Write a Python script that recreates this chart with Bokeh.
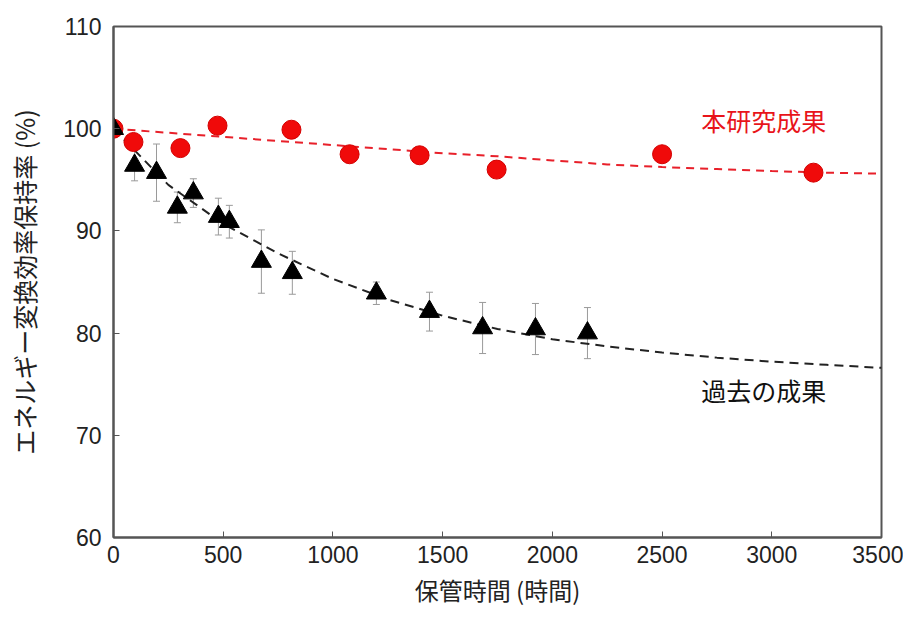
from bokeh.plotting import figure
from bokeh.models import ColumnDataSource, Whisker, TeeHead, Range1d, FixedTicker
from bokeh.core.properties import value
from bokeh.embed import file_html
from bokeh.resources import INLINE

# ---- data ----
red_x = [0, 91, 305, 474, 811, 1076, 1395, 1746, 2500, 3190]
red_y = [100.0, 98.7, 98.1, 100.3, 99.9, 97.5, 97.4, 96.0, 97.5, 95.7]

black_x = [0, 96, 196, 291, 364, 478, 528, 674, 815, 1198, 1440, 1682, 1923, 2160]
black_y = [100.0, 96.4, 95.7, 92.3, 93.7, 91.4, 90.9, 87.0, 85.9, 83.9, 82.1, 80.5, 80.4, 80.0]
black_err = [0.3, 1.5, 2.8, 1.5, 1.4, 1.8, 1.6, 3.1, 2.1, 1.1, 1.9, 2.5, 2.5, 2.5]

fit_x = [0, 250, 500, 750, 1000, 1250, 1500, 1750, 2000, 2250, 2500, 2750, 3000, 3250, 3500]
black_fit = [100.0, 94.5, 90.7, 87.8, 85.3, 83.3, 81.7, 80.4, 79.4, 78.7, 78.1, 77.6, 77.2, 76.9, 76.6]
red_fit = [100.0, 99.6, 99.2, 98.8, 98.4, 98.0, 97.6, 97.3, 96.9, 96.5, 96.25, 96.05, 95.85, 95.7, 95.6]

x_ticks = [0, 500, 1000, 1500, 2000, 2500, 3000, 3500]
y_ticks = [60, 70, 80, 90, 100, 110]

labels_text = ["本研究成果", "過去の成果"]
labels_x = [2963, 2963]
labels_y = [100.9, 74.4]
labels_color = ["#e8141a", "#111111"]

x_label = "保管時間 (時間)"
y_label = "エネルギー変換効率保持率 (%)"

# ---- figure ----
p = figure(width=903, height=601, output_backend="svg", toolbar_location=None,
           x_range=Range1d(0, 3500), y_range=Range1d(60, 110),
           min_border_left=113, min_border_right=22, min_border_top=26, min_border_bottom=64)
p.frame_width = 768
p.frame_height = 511

p.grid.visible = False
p.outline_line_color = "#555555"
p.outline_line_width = 2
p.outline_line_alpha = 1.0

for ax in (p.xaxis, p.yaxis):
    ax.axis_line_color = "#555555"
    ax.axis_line_width = 2
    ax.major_tick_in = 6
    ax.major_tick_out = 0
    ax.major_tick_line_color = "#555555"
    ax.major_tick_line_width = 1
    ax.minor_tick_line_color = None
    ax.major_label_text_font = "Liberation Sans"
    ax.major_label_text_font_size = "23px"
    ax.major_label_text_color = "#222222"
    ax.axis_label_text_font = "Noto Sans CJK JP"
    ax.axis_label_text_font_style = "normal"
    ax.axis_label_text_color = "#222222"

p.xaxis.axis_label_text_font_size = "24px"
p.yaxis.axis_label_text_font_size = "25px"
p.xaxis.ticker = FixedTicker(ticks=x_ticks)
p.yaxis.ticker = FixedTicker(ticks=y_ticks)
p.xaxis.major_label_standoff = 8
p.yaxis.major_label_standoff = 12
p.xaxis.axis_label = x_label
p.yaxis.axis_label = y_label
p.xaxis.axis_label_standoff = 6
p.yaxis.axis_label_standoff = 18

# fit lines
p.line(fit_x, red_fit, line_color="#e8202a", line_width=2, line_dash="8 6")
p.line(fit_x, black_fit, line_color="#222222", line_width=2, line_dash="9 6")

# error bars
src = ColumnDataSource(dict(x=black_x,
                            upper=[y + e for y, e in zip(black_y, black_err)],
                            lower=[y - e for y, e in zip(black_y, black_err)]))
w = Whisker(source=src, base="x", upper="upper", lower="lower", dimension="height",
            line_color="#9a9a9a", line_width=1,
            upper_head=TeeHead(size=7, line_color="#9a9a9a", line_width=1),
            lower_head=TeeHead(size=7, line_color="#9a9a9a", line_width=1))
p.add_layout(w)

# points
p.scatter(red_x, red_y, marker="circle", size=19, fill_color="#f00a0a",
          line_color="#d40000", line_width=1)
p.scatter(black_x, black_y, marker="triangle", size=20, fill_color="black",
          line_color="black")

# annotations
p.text(x=labels_x, y=labels_y, text=labels_text, text_color=labels_color,
       text_font=value("Noto Sans CJK JP"), text_font_size="25px",
       text_align="center", text_baseline="middle")

open("out.html", "w").write(file_html(p, INLINE))
